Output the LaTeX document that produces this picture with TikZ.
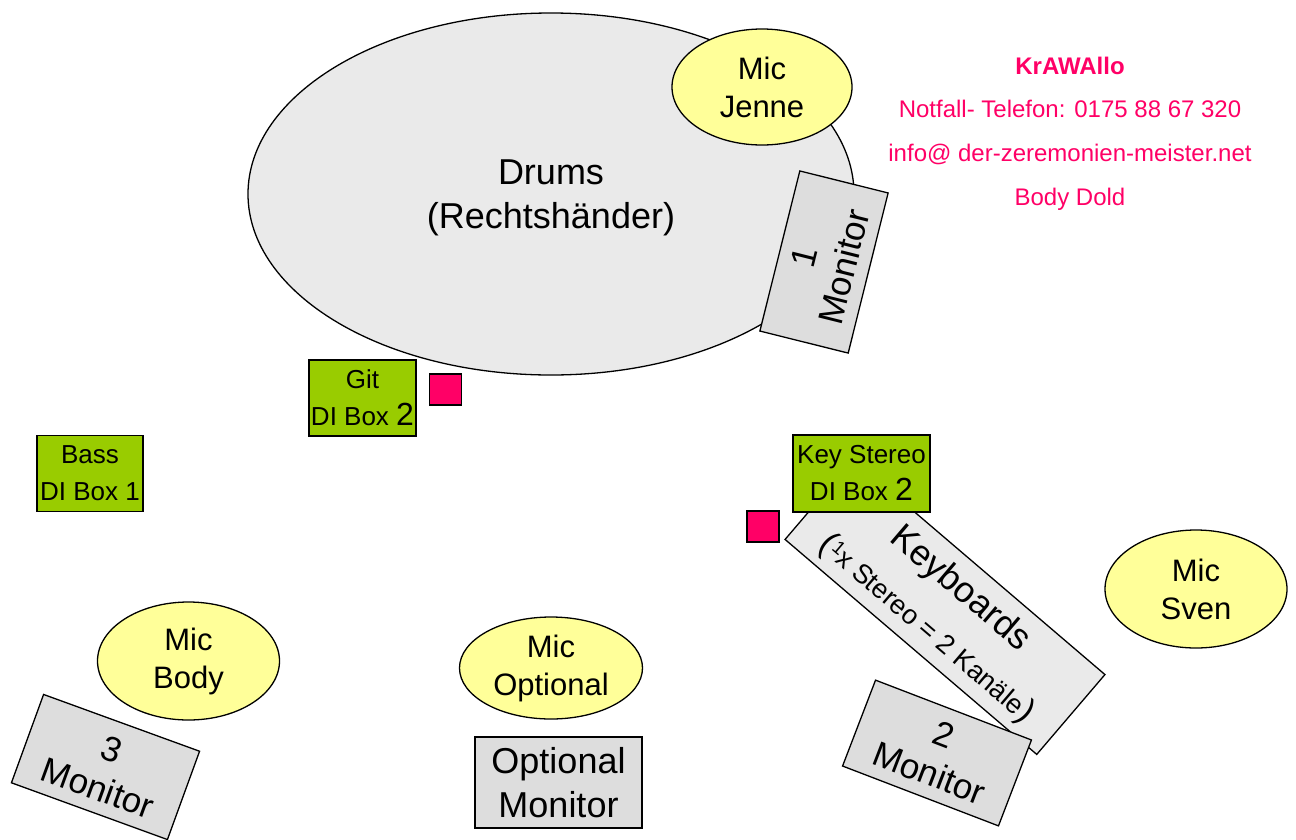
\documentclass[tikz,border=0pt]{standalone}
\usepackage{fontspec}
\setmainfont{Liberation Sans}
\usetikzlibrary{shapes.geometric}
\definecolor{drumgray}{HTML}{EAEAEA}
\definecolor{mongray}{HTML}{DDDDDD}
\definecolor{micyellow}{HTML}{FFFF99}
\definecolor{digreen}{HTML}{99CC00}
\definecolor{hotpink}{HTML}{FF0066}
% #1: extra room added above the text (text moves down by half of it)
\newcommand\lowtext[2]{\raisebox{0pt}[\dimexpr\height+#1\relax][\depth]{\begin{tabular}{@{}c@{}}#2\end{tabular}}}
\begin{document}
\begin{tikzpicture}[x=1pt,y=-1pt,
  every node/.style={inner sep=0pt, outer sep=0pt, align=center},
  shapebase/.style={draw=black, line width=1.3pt},
  mic/.style={shapebase, ellipse, fill=micyellow, minimum width=182, minimum height=118, font=\fontsize{31}{38}\selectfont},
  monitor/.style={shapebase, rectangle, fill=mongray, font=\fontsize{35}{41}\selectfont},
  dibox/.style={shapebase, rectangle, fill=digreen, font=\fontsize{26}{37}\selectfont},
  plug/.style={shapebase, rectangle, fill=hotpink, minimum width=32, minimum height=31},
  info/.style={text=hotpink, font=\fontsize{24}{28}\selectfont, anchor=base}
]
\useasboundingbox[fill=white] (0,0) rectangle (1296,839);

% drums
\node[shapebase, ellipse, fill=drumgray, minimum width=606, minimum height=362,
      font=\fontsize{36}{44}\selectfont] (drums) at (551,194) {\lowtext{8pt}{Drums\\(Rechtshänder)}};
\node[mic, minimum width=180, minimum height=116] (micjenne) at (762,87) {Mic\\Jenne};
\node[monitor, minimum width=165, minimum height=91, rotate=76] (mon1) at (824,262) {\lowtext{8pt}{1\\Monitor}};

% info
\node[info, font=\bfseries\fontsize{24}{28}\selectfont] (band) at (1070,74) {KrAWAllo};
\node[info] (phone) at (1070,117) {Notfall- Telefon: 0175 88 67 320};
\node[info] (mail) at (1070,161) {info@ der-zeremonien-meister.net};
\node[info] (name) at (1070,205) {Body Dold};

% DI boxes
\node[dibox, minimum width=107, minimum height=76] (git) at (362.5,398) {Git\\DI Box {\fontsize{32}{37}\selectfont 2}};
\node[plug] (gitplug) at (445.5,389.5) {};
\node[dibox, minimum width=106, minimum height=76] (bass) at (90,473.5) {Bass\\DI Box 1};

% keyboards
\node[shapebase, rectangle, fill=drumgray, minimum width=331, minimum height=105, rotate=-40.5,
      font=\fontsize{36}{44}\selectfont] (keys) at (945,607)
  {\lowtext{6pt}{Keyboards\\[7pt]{\fontsize{34}{40}\selectfont(}{\fontsize{19}{20}\selectfont\raisebox{7pt}{1}}{\fontsize{27}{40}\selectfont x Stereo = 2 Kanäle}{\fontsize{34}{40}\selectfont)}}};
\node[dibox, minimum width=137, minimum height=77] (keydi) at (861.5,473.5) {Key Stereo\\DI Box {\fontsize{32}{37}\selectfont 2}};
\node[plug] (keyplug) at (763,526.5) {};

% mics
\node[mic] (micsven) at (1196,589) {Mic\\Sven};
\node[mic] (micbody) at (188.5,661) {Mic\\Body};
\node[mic, minimum width=183, minimum height=102] (micopt) at (551,668) {Mic\\Optional};

% monitors
\node[monitor, minimum width=167, minimum height=90, rotate=-21] (mon2) at (937,753) {\lowtext{10pt}{2\\Monitor}};
\node[monitor, minimum width=166, minimum height=91, rotate=-20] (mon3) at (105.5,767) {\lowtext{12pt}{3\\Monitor}};
\node[monitor, minimum width=167, minimum height=91, font=\fontsize{36}{44}\selectfont] (monopt) at (558.5,782.5) {Optional\\Monitor};
\end{tikzpicture}
\end{document}
